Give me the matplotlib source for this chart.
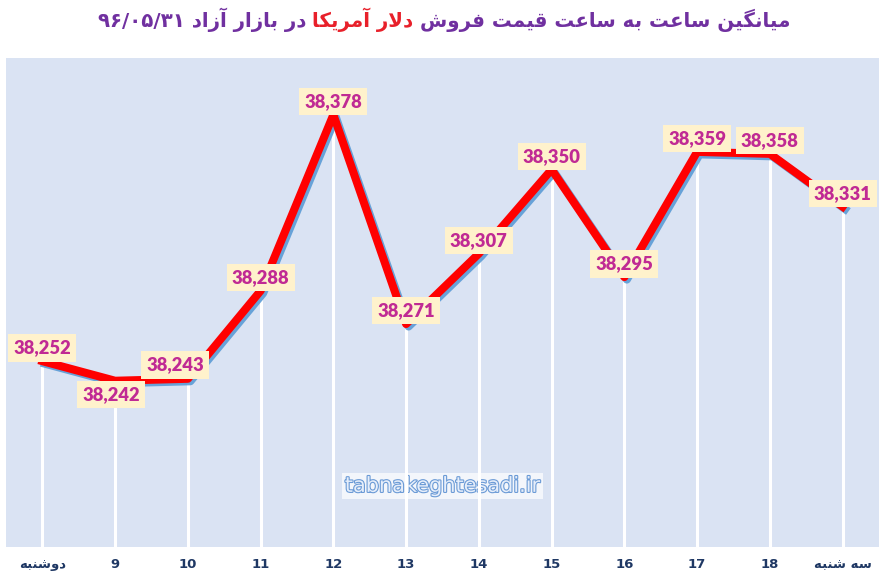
import re
import matplotlib
matplotlib.use('Agg')
import matplotlib.pyplot as plt
import matplotlib.patheffects as pe

# chart data
days = ['دوشنبه', '9', '10', '11', '12', '13', '14', '15', '16', '17', '18', 'سه شنبه']
prices = [38252, 38242, 38243, 38288, 38378, 38271, 38307, 38350, 38295, 38359, 38358, 38331]
title_parts = ['میانگین ساعت به ساعت قیمت فروش', 'دلار آمریکا', 'در بازار آزاد ۹۶/۰۵/۳۱']
watermark = 'tabnakeghtesadi.ir'

# arabic presentation forms: isolated, final, initial, medial
FORMS = {
	'ا': ('\ufe8d', '\ufe8e', None, None),
	'آ': ('\ufe81', '\ufe82', None, None),
	'د': ('\ufea9', '\ufeaa', None, None),
	'ر': ('\ufead', '\ufeae', None, None),
	'ز': ('\ufeaf', '\ufeb0', None, None),
	'و': ('\ufeed', '\ufeee', None, None),
	'ب': ('\ufe8f', '\ufe90', '\ufe91', '\ufe92'),
	'ت': ('\ufe95', '\ufe96', '\ufe97', '\ufe98'),
	'س': ('\ufeb1', '\ufeb2', '\ufeb3', '\ufeb4'),
	'ش': ('\ufeb5', '\ufeb6', '\ufeb7', '\ufeb8'),
	'ع': ('\ufec9', '\ufeca', '\ufecb', '\ufecc'),
	'ف': ('\ufed1', '\ufed2', '\ufed3', '\ufed4'),
	'ق': ('\ufed5', '\ufed6', '\ufed7', '\ufed8'),
	'ل': ('\ufedd', '\ufede', '\ufedf', '\ufee0'),
	'م': ('\ufee1', '\ufee2', '\ufee3', '\ufee4'),
	'ن': ('\ufee5', '\ufee6', '\ufee7', '\ufee8'),
	'ه': ('\ufee9', '\ufeea', '\ufeeb', '\ufeec'),
	'ی': ('\ufbfc', '\ufbfd', '\ufbfe', '\ufbff'),
	'ک': ('\ufb8e', '\ufb8f', '\ufb90', '\ufb91'),
	'گ': ('\ufb92', '\ufb93', '\ufb94', '\ufb95'),
}
LAMALEF = {'ا': ('\ufefb', '\ufefc'), 'آ': ('\ufef5', '\ufef6')}


def shape(s):
	res = []
	i = 0
	n = len(s)
	while i < n:
		c = s[i]
		if c not in FORMS:
			res.append(c)
			i += 1
			continue
		prev = s[i-1] if i > 0 else None
		joins_prev = prev in FORMS and FORMS[prev][2] is not None
		if c == 'ل' and i+1 < n and s[i+1] in LAMALEF:
			lig = LAMALEF[s[i+1]]
			res.append(lig[1] if joins_prev else lig[0])
			i += 2
			continue
		nxt = s[i+1] if i+1 < n else None
		joins_next = nxt in FORMS and FORMS[c][2] is not None
		iso, fin, ini, med = FORMS[c]
		if joins_prev and joins_next:
			res.append(med)
		elif joins_prev:
			res.append(fin)
		elif joins_next:
			res.append(ini)
		else:
			res.append(iso)
		i += 1
	return ''.join(res)


def visual(s):
	t = shape(s)[::-1]
	return re.sub(r'[\u06f0-\u06f90-9/]+', lambda m: m.group(0)[::-1], t)


def main():
	fig = plt.figure(figsize=(8.88, 5.84), dpi=100)
	ax = fig.add_axes([6/888, 1-547/584, 873/888, 489/584])
	ax.set_facecolor('#dae3f3')
	for s in ax.spines.values():
		s.set_visible(False)

	x = list(range(len(prices)))
	ax.set_xlim(-0.5, len(prices)-0.5)
	ax.set_ylim(38157, 38407)

	ax.vlines(x, 38157, prices, color='white', lw=2.2, zorder=2)
	ax.plot(x, prices, color='#ff0000', lw=5.8, solid_joinstyle='round', zorder=3,
		path_effects=[pe.SimpleLineShadow(offset=(1.8, -1.8), shadow_color='#5b9bd5', alpha=0.9), pe.Normal()])

	offsets = {1: (-3, -10), 2: (-9, 10)}
	for i, v in enumerate(prices):
		dx, dy = offsets.get(i, (0, 9.5))
		ax.annotate('{:,}'.format(v), (i, v), xytext=(dx, dy), textcoords='offset points',
			ha='center', va='center', fontsize=13.2, fontweight='heavy', family=['Lato', 'DejaVu Sans'],
			color='#c02a94', zorder=5,
			bbox=dict(boxstyle='square,pad=0.28', fc='#fff2cc', ec='none'))

	ax.set_yticks([])
	ax.set_xticks(x)
	ax.set_xticklabels([visual(d) for d in days], fontsize=9.5, fontweight='bold',
		color='#1f3864', family=['Liberation Sans Narrow', 'DejaVu Sans'])
	ax.tick_params(axis='x', length=0, pad=8)

	ax.text(0.5, 0.125, watermark, transform=ax.transAxes, ha='center', va='center',
		fontsize=15, color='#e6eefa', zorder=1,
		path_effects=[pe.withStroke(linewidth=1.6, foreground='#6a9ad6')],
		bbox=dict(boxstyle='square,pad=0.15', fc='white', ec='none', alpha=0.7))

	# title in three colored pieces, right to left
	ty = 1 - 20/584
	t1 = fig.text(0.1, ty, visual(title_parts[2]), ha='left', va='center',
		fontsize=14.2, fontweight='bold', color='#7030a0')
	t2 = fig.text(0.4, ty, visual(title_parts[1]), ha='left', va='center',
		fontsize=14.2, fontweight='bold', color='#e8202a')
	t3 = fig.text(0.6, ty, visual(title_parts[0]), ha='left', va='center',
		fontsize=14.2, fontweight='bold', color='#7030a0')
	fig.canvas.draw()
	r = fig.canvas.get_renderer()
	gap = 6
	w = [t.get_window_extent(r).width for t in (t1, t2, t3)]
	total = sum(w) + 2*gap
	W = fig.bbox.width
	left = (W - total) / 2
	t1.set_x(left / W)
	t2.set_x((left + w[0] + gap) / W)
	t3.set_x((left + w[0] + w[1] + 2*gap) / W)

	fig.savefig('out.png', dpi=100, facecolor='white')


if __name__ == '__main__':
	main()
